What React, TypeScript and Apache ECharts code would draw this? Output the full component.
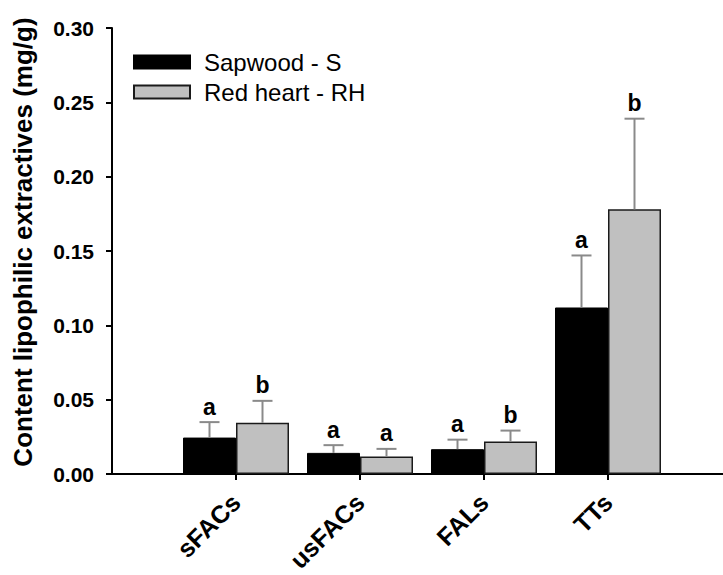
import React, { useEffect, useRef } from "react";
import * as echarts from "echarts";

const categories = ["", "sFACs", "usFACs", "FALs", "TTs", ""];
const seriesNames = ["Sapwood - S", "Red heart - RH"];
const sapwoodMean = [0.0245, 0.0142, 0.0167, 0.112];
const sapwoodUpper = [0.0349, 0.0194, 0.0231, 0.147];
const redHeartMean = [0.0344, 0.0117, 0.0218, 0.178];
const redHeartUpper = [0.0492, 0.0169, 0.0292, 0.239];
const sapwoodLetters = ["a", "a", "a", "a"];
const redHeartLetters = ["b", "a", "b", "b"];
const yTicks = [0, 0.05, 0.1, 0.15, 0.2, 0.25, 0.3];

const FONT = 'Arial, "Liberation Sans", sans-serif';
const BAR_W = 53;

function pad(arr: (number | null)[]) {
  return [null, ...arr, null];
}

function errSeries(name: string, means: number[], uppers: number[], letters: string[], offset: number) {
  return {
    type: "custom",
    name: name + " err",
    z: 5,
    silent: true,
    data: means.map((m, i) => [i + 1, m, uppers[i], i]),
    renderItem: (params: any, api: any) => {
      const xi = api.value(0);
      const m = api.value(1);
      const u = api.value(2);
      const idx = api.value(3);
      const p0 = api.coord([xi, m]);
      const p1 = api.coord([xi, u]);
      const cx = p0[0] + offset;
      const stroke = { stroke: "#8a8a8a", lineWidth: 2 };
      return {
        type: "group",
        children: [
          { type: "line", shape: { x1: cx, y1: p0[1], x2: cx, y2: p1[1] }, style: stroke },
          { type: "line", shape: { x1: cx - 10, y1: p1[1], x2: cx + 10, y2: p1[1] }, style: stroke },
          {
            type: "text",
            x: cx,
            y: p1[1] - 4,
            style: {
              text: letters[idx],
              align: "center",
              verticalAlign: "bottom",
              font: `bold 23px ${FONT}`,
              fill: "#000",
            },
          },
        ],
      };
    },
  };
}

export default function App() {
  const ref = useRef<HTMLDivElement>(null);
  useEffect(() => {
    if (!ref.current) return;
    const chart = echarts.init(ref.current, undefined, { renderer: "svg" });
    chart.setOption({
      animation: false,
      backgroundColor: "#fff",
      textStyle: { fontFamily: FONT },
      grid: { left: 112, top: 28, width: 620, height: 446, outerBoundsMode: "none", containLabel: false },
      legend: {
        data: seriesNames,
        orient: "vertical",
        left: 133,
        top: 50,
        padding: 0,
        itemWidth: 56,
        itemHeight: 13,
        itemGap: 6,
        icon: "rect",
        selectedMode: false,
        textStyle: { fontSize: 24, lineHeight: 24, color: "#000", fontFamily: FONT, padding: [0, 0, 0, 9] },
      },
      xAxis: {
        type: "category",
        data: categories,
        boundaryGap: false,
        axisLine: { lineStyle: { color: "#000", width: 2 } },
        axisTick: {
          length: 6,
          lineStyle: { color: "#000", width: 2 },
          interval: (i: number, v: string) => v !== "",
        },
        axisLabel: {
          rotate: 45,
          margin: 24,
          color: "#000",
          fontWeight: "bold",
          fontSize: 25,
          fontFamily: FONT,
          interval: 0,
        },
        splitLine: { show: false },
      },
      yAxis: {
        type: "value",
        min: yTicks[0],
        max: yTicks[yTicks.length - 1],
        interval: 0.05,
        axisLine: { show: true, lineStyle: { color: "#000", width: 2 } },
        axisTick: { show: true, length: 6, lineStyle: { color: "#000", width: 2 } },
        axisLabel: {
          margin: 18,
          color: "#000",
          fontWeight: "bold",
          fontSize: 21,
          fontFamily: FONT,
          formatter: (v: number) => v.toFixed(2),
        },
        splitLine: { show: false },
      },
      graphic: [
        {
          type: "text",
          x: 23,
          y: 242,
          rotation: Math.PI / 2,
          style: {
            text: "Content lipophilic extractives (mg/g)",
            align: "center",
            verticalAlign: "middle",
            font: `bold 26px ${FONT}`,
            fill: "#000",
          },
        },
      ],
      series: [
        {
          type: "bar",
          name: seriesNames[0],
          data: pad(sapwoodMean),
          barWidth: BAR_W,
          barGap: "0%",
          itemStyle: { color: "#000", borderColor: "#000", borderWidth: 1 },
        },
        {
          type: "bar",
          name: seriesNames[1],
          data: pad(redHeartMean),
          barWidth: BAR_W,
          barGap: "0%",
          itemStyle: { color: "#c0c0c0", borderColor: "#1a1a1a", borderWidth: 1.5 },
        },
        errSeries(seriesNames[0], sapwoodMean, sapwoodUpper, sapwoodLetters, -BAR_W / 2),
        errSeries(seriesNames[1], redHeartMean, redHeartUpper, redHeartLetters, BAR_W / 2),
      ],
    });
    return () => chart.dispose();
  }, []);
  return (
    <div
      ref={ref}
      style={{ position: "fixed", left: 0, top: 0, width: 723, height: 575, background: "#fff" }}
    />
  );
}
